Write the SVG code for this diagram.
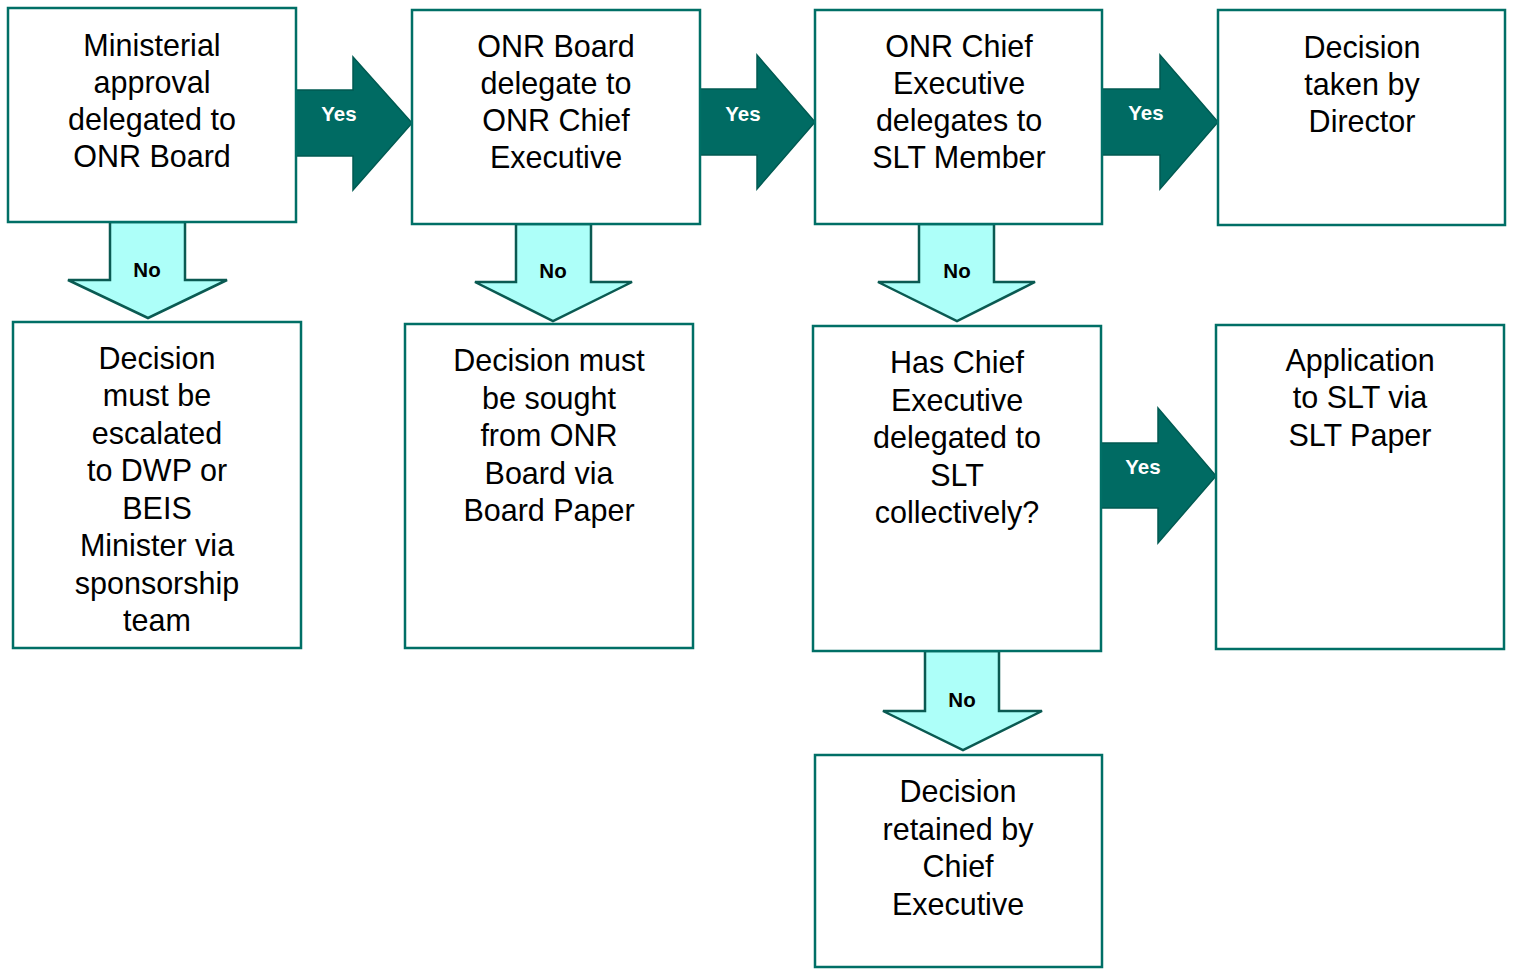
<svg xmlns="http://www.w3.org/2000/svg" width="1513" height="969" viewBox="0 0 1513 969">
<style>
.box{fill:#ffffff;stroke:#006f66;stroke-width:2.5}
.t{font-family:"Liberation Sans",Arial,sans-serif;font-size:30.5px;fill:#000;text-anchor:middle}
.yes{fill:#006b63;stroke:#005a52;stroke-width:1.5}
.no{fill:#adfff9;stroke:#0a5a52;stroke-width:2.5;stroke-linejoin:miter}
.yl{font-family:"Liberation Sans",Arial,sans-serif;font-size:20.5px;font-weight:bold;fill:#fff;text-anchor:middle}
.nl{font-family:"Liberation Sans",Arial,sans-serif;font-size:20.5px;font-weight:bold;fill:#000;text-anchor:middle}
</style>
<rect width="1513" height="969" fill="#fff"/>
<g id="connectors">
<polygon class="yes" points="296,90 353,90 353,57 412,123 353,190 353,156 296,156"/>
<text class="yl" x="339" y="121">Yes</text>
<polygon class="yes" points="699,89 757,89 757,55 815,122 757,189 757,155 699,155"/>
<text class="yl" x="743" y="121">Yes</text>
<polygon class="yes" points="1102,89 1160,89 1160,55 1218,122 1160,189 1160,155 1102,155"/>
<text class="yl" x="1146" y="120">Yes</text>
<polygon class="yes" points="1101,443 1158,443 1158,408 1216,476 1158,543 1158,508 1101,508"/>
<text class="yl" x="1143" y="474">Yes</text>
<polygon class="no" points="110,222 185,222 185,280 227,280 148,318 68,280 110,280"/>
<text class="nl" x="147" y="277">No</text>
<polygon class="no" points="516,224 591,224 591,282 632,282 553,321 475,282 516,282"/>
<text class="nl" x="553" y="278">No</text>
<polygon class="no" points="919,224 994,224 994,282 1035,282 957,321 878,282 919,282"/>
<text class="nl" x="957" y="278">No</text>
<polygon class="no" points="925,651 999,651 999,711 1042,711 963,750 883,711 925,711"/>
<text class="nl" x="962" y="707">No</text>
</g>
<g id="n1"><rect class="box" x="8" y="8" width="288" height="214"/>
<text class="t" x="152"><tspan x="152" y="56">Ministerial</tspan><tspan x="152" y="93">approval</tspan><tspan x="152" y="130">delegated to</tspan><tspan x="152" y="167">ONR Board</tspan></text></g>
<g id="n2"><rect class="box" x="412" y="10" width="288" height="214"/>
<text class="t" x="556"><tspan x="556" y="57">ONR Board</tspan><tspan x="556" y="94">delegate to</tspan><tspan x="556" y="131">ONR Chief</tspan><tspan x="556" y="168">Executive</tspan></text></g>
<g id="n3"><rect class="box" x="815" y="10" width="287" height="214"/>
<text class="t" x="959"><tspan x="959" y="57">ONR Chief</tspan><tspan x="959" y="94">Executive</tspan><tspan x="959" y="131">delegates to</tspan><tspan x="959" y="168">SLT Member</tspan></text></g>
<g id="n4"><rect class="box" x="1218" y="10" width="287" height="215"/>
<text class="t" x="1362"><tspan x="1362" y="58">Decision</tspan><tspan x="1362" y="95">taken by</tspan><tspan x="1362" y="132">Director</tspan></text></g>
<g id="n5"><rect class="box" x="13" y="322" width="288" height="326"/>
<text class="t" x="157"><tspan x="157" y="369">Decision</tspan><tspan x="157" y="406">must be</tspan><tspan x="157" y="444">escalated</tspan><tspan x="157" y="481">to DWP or</tspan><tspan x="157" y="519">BEIS</tspan><tspan x="157" y="556">Minister via</tspan><tspan x="157" y="594">sponsorship</tspan><tspan x="157" y="631">team</tspan></text></g>
<g id="n6"><rect class="box" x="405" y="324" width="288" height="324"/>
<text class="t" x="549"><tspan x="549" y="371">Decision must</tspan><tspan x="549" y="409">be sought</tspan><tspan x="549" y="446">from ONR</tspan><tspan x="549" y="484">Board via</tspan><tspan x="549" y="521">Board Paper</tspan></text></g>
<g id="n7"><rect class="box" x="813" y="326" width="288" height="325"/>
<text class="t" x="957"><tspan x="957" y="373">Has Chief</tspan><tspan x="957" y="411">Executive</tspan><tspan x="957" y="448">delegated to</tspan><tspan x="957" y="486">SLT</tspan><tspan x="957" y="523">collectively?</tspan></text></g>
<g id="n8"><rect class="box" x="1216" y="325" width="288" height="324"/>
<text class="t" x="1360"><tspan x="1360" y="371">Application</tspan><tspan x="1360" y="408">to SLT via</tspan><tspan x="1360" y="446">SLT Paper</tspan></text></g>
<g id="n9"><rect class="box" x="815" y="755" width="287" height="212"/>
<text class="t" x="958"><tspan x="958" y="802">Decision</tspan><tspan x="958" y="840">retained by</tspan><tspan x="958" y="877">Chief</tspan><tspan x="958" y="915">Executive</tspan></text></g>
</svg>
